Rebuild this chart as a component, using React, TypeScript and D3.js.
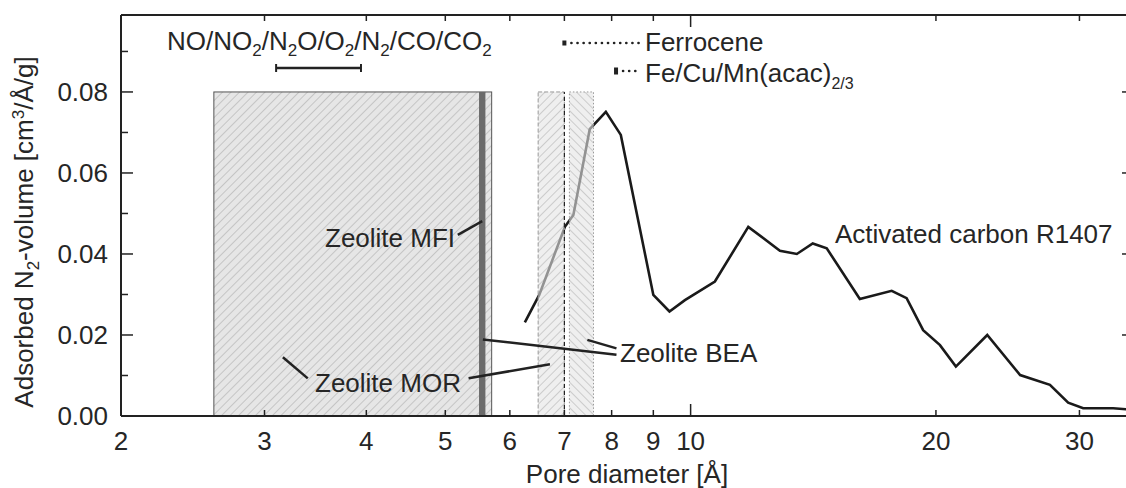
import React, { useEffect, useRef } from 'react';
import * as d3 from 'd3';

// pore size distribution of activated carbon R1407
const poreSize = [6.26, 6.52, 7.01, 7.18, 7.52, 7.87, 8.21, 9.0, 9.42, 9.84, 10.71, 11.77, 12.87, 13.5, 14.12, 14.69,
  16.13, 17.65, 18.41, 19.29, 20.23, 21.16, 23.12, 25.37, 27.6, 29.06, 30.32, 33.0, 35.0];
const volume = [0.0231, 0.0299, 0.0467, 0.0496, 0.0708, 0.0751, 0.0694, 0.0299, 0.0258, 0.0286, 0.0332, 0.0467, 0.0408, 0.04, 0.0426, 0.0414,
  0.0289, 0.0309, 0.0291, 0.0212, 0.0175, 0.0122, 0.02, 0.0101, 0.0077, 0.0033, 0.0019, 0.0019, 0.0015];

const xTicks = [2, 3, 4, 5, 6, 7, 8, 9, 10, 20, 30];
const yTicks = [0, 0.02, 0.04, 0.06, 0.08];
const yMinor = [0.01, 0.03, 0.05, 0.07, 0.09];

// channel sizes of the zeolites [Å]
const morSmall = [2.6, 5.7];
const mfiBar = [5.5, 5.6];
const morLarge = [6.5, 7.0];
const beaBox = [7.1, 7.6];
const boxTop = 0.08;
const gasRange = [3.1, 3.94];
const ferrocene = 7.0;
const acac = 8.1;

const W = 1126;
const H = 488;
const FONT = '"Liberation Sans", Arial, sans-serif';

function drawChart(el: SVGSVGElement) {
  const svg = d3.select(el);
  svg.selectAll('*').remove();

  const left = 121, right = 1134, top = 15, bottom = 416;
  const x = d3.scaleLog().domain([2, 35]).range([left, right]);
  const y = d3.scaleLinear().domain([0, 0.099]).range([bottom, top]);
  const ink = '#222';

  const defs = svg.append('defs');
  const hatch = (id: string, angle: number, stroke: string) => {
    const p = defs.append('pattern')
      .attr('id', id)
      .attr('patternUnits', 'userSpaceOnUse')
      .attr('width', 6).attr('height', 6)
      .attr('patternTransform', `rotate(${angle})`);
    p.append('line').attr('x1', 0).attr('y1', 0).attr('x2', 0).attr('y2', 6)
      .attr('stroke', stroke).attr('stroke-width', 1);
  };
  hatch('hatchA', 45, '#a4a4a4');
  hatch('hatchB', 45, 'rgba(140,140,140,0.7)');
  hatch('hatchC', -45, 'rgba(140,140,140,0.7)');

  const g = svg.append('g');

  // big MOR box (8-ring)
  g.append('rect')
    .attr('x', x(morSmall[0])).attr('y', y(boxTop))
    .attr('width', x(morSmall[1]) - x(morSmall[0])).attr('height', y(0) - y(boxTop))
    .attr('fill', '#e6e6e6');
  g.append('rect')
    .attr('x', x(morSmall[0])).attr('y', y(boxTop))
    .attr('width', x(morSmall[1]) - x(morSmall[0])).attr('height', y(0) - y(boxTop))
    .attr('fill', 'url(#hatchA)').attr('stroke', '#555').attr('stroke-width', 1);

  // MFI bar
  g.append('rect')
    .attr('x', x(mfiBar[0])).attr('y', y(boxTop))
    .attr('width', x(mfiBar[1]) - x(mfiBar[0])).attr('height', y(0) - y(boxTop))
    .attr('fill', '#6b6b6b');

  // activated carbon curve
  const line = d3.line<number>()
    .x((_, i) => x(poreSize[i]))
    .y(d => y(d));
  g.append('path')
    .datum(volume)
    .attr('d', line)
    .attr('fill', 'none')
    .attr('stroke', '#1a1a1a')
    .attr('stroke-width', 2.6)
    .attr('stroke-linejoin', 'miter');

  // MOR 12-ring box and BEA box, drawn over the curve
  const overBox = (r: number[], pat: string, dash: string) => {
    g.append('rect')
      .attr('x', x(r[0])).attr('y', y(boxTop))
      .attr('width', x(r[1]) - x(r[0])).attr('height', y(0) - y(boxTop))
      .attr('fill', 'rgba(228,228,228,0.6)');
    g.append('rect')
      .attr('x', x(r[0])).attr('y', y(boxTop))
      .attr('width', x(r[1]) - x(r[0])).attr('height', y(0) - y(boxTop))
      .attr('fill', `url(#${pat})`)
      .attr('stroke', '#999').attr('stroke-width', 1).attr('stroke-dasharray', dash);
  };
  overBox(morLarge, 'hatchB', '4,2');
  overBox(beaBox, 'hatchC', '1.5,2');

  // ferrocene size marker
  g.append('line')
    .attr('x1', x(ferrocene)).attr('x2', x(ferrocene))
    .attr('y1', y(0)).attr('y2', y(boxTop))
    .attr('stroke', ink).attr('stroke-width', 1.2).attr('stroke-dasharray', '4,3');

  // gas molecule range bar
  const gy = 68;
  g.append('line').attr('x1', x(gasRange[0])).attr('x2', x(gasRange[1])).attr('y1', gy).attr('y2', gy)
    .attr('stroke', ink).attr('stroke-width', 2.5);
  gasRange.forEach(v => {
    g.append('line').attr('x1', x(v)).attr('x2', x(v)).attr('y1', gy - 4).attr('y2', gy + 4)
      .attr('stroke', ink).attr('stroke-width', 2);
  });

  // legend lines for the complexes
  const legendLine = (v: number, ly: number, h: number) => {
    g.append('rect').attr('x', x(v) - 2).attr('y', ly - h / 2).attr('width', 4).attr('height', h).attr('fill', ink);
    g.append('line').attr('x1', x(v) + 7).attr('x2', 641).attr('y1', ly).attr('y2', ly)
      .attr('stroke', ink).attr('stroke-width', 2.6).attr('stroke-linecap', 'round')
      .attr('stroke-dasharray', '0.1,6');
  };
  legendLine(ferrocene, 43, 5);
  legendLine(acac, 71, 7);

  // leader lines for the labels
  const leaders = [
    [5.18, 0.0447, 5.55, 0.0481],
    [3.16, 0.0145, 3.39, 0.0093],
    [5.34, 0.0093, 6.72, 0.0128],
    [5.56, 0.0189, 8.11, 0.0151],
    [7.47, 0.0188, 8.11, 0.0167],
  ];
  leaders.forEach(l => {
    g.append('line')
      .attr('x1', x(l[0])).attr('y1', y(l[1]))
      .attr('x2', x(l[2])).attr('y2', y(l[3]))
      .attr('stroke', ink).attr('stroke-width', 2.5);
  });

  // axes frame
  const frame = svg.append('g').attr('stroke', ink).attr('stroke-width', 2).attr('fill', 'none');
  frame.append('line').attr('x1', left).attr('x2', right).attr('y1', bottom).attr('y2', bottom);
  frame.append('line').attr('x1', left).attr('x2', right).attr('y1', top).attr('y2', top);
  frame.append('line').attr('x1', left).attr('x2', left).attr('y1', top).attr('y2', bottom);
  frame.append('line').attr('x1', right).attr('x2', right).attr('y1', top).attr('y2', bottom);

  const tickG = svg.append('g').attr('stroke', ink).attr('stroke-width', 1.5);
  xTicks.forEach(v => {
    const len = v === 10 ? 12 : 6;
    tickG.append('line').attr('x1', x(v)).attr('x2', x(v)).attr('y1', bottom).attr('y2', bottom - len);
    tickG.append('line').attr('x1', x(v)).attr('x2', x(v)).attr('y1', top).attr('y2', top + len);
  });
  yTicks.forEach(v => {
    tickG.append('line').attr('x1', left).attr('x2', left + 12).attr('y1', y(v)).attr('y2', y(v));
    tickG.append('line').attr('x1', right).attr('x2', right - 12).attr('y1', y(v)).attr('y2', y(v));
  });
  yMinor.forEach(v => {
    tickG.append('line').attr('x1', left).attr('x2', left + 7).attr('y1', y(v)).attr('y2', y(v));
    tickG.append('line').attr('x1', right).attr('x2', right - 7).attr('y1', y(v)).attr('y2', y(v));
  });

  const txt = svg.append('g').attr('font-family', FONT).attr('fill', '#262626').attr('font-size', 26);

  xTicks.forEach(v => {
    txt.append('text').attr('x', x(v)).attr('y', 450).attr('text-anchor', 'middle').text(String(v));
  });
  const fmt = d3.format('.2f');
  yTicks.forEach(v => {
    txt.append('text').attr('x', 108).attr('y', y(v) + 9).attr('text-anchor', 'end').text(fmt(v));
  });

  txt.append('text').attr('x', 627).attr('y', 483).attr('text-anchor', 'middle').text('Pore diameter [Å]');

  const yt = txt.append('text')
    .attr('transform', 'translate(33,232) rotate(-90)')
    .attr('text-anchor', 'middle');
  yt.append('tspan').text('Adsorbed N');
  yt.append('tspan').attr('font-size', 17).attr('dy', 6).text('2');
  yt.append('tspan').attr('dy', -6).text('-volume [cm');
  yt.append('tspan').attr('font-size', 17).attr('dy', -9).text('3');
  yt.append('tspan').attr('dy', 9).text('/Å/g]');

  // gas list with subscripts
  const gas = txt.append('text').attr('x', 167).attr('y', 50);
  const parts: [string, boolean][] = [
    ['NO/NO', false], ['2', true], ['/N', false], ['2', true], ['O/O', false], ['2', true],
    ['/N', false], ['2', true], ['/CO/CO', false], ['2', true],
  ];
  parts.forEach(([s, sub], i) => {
    if (sub) gas.append('tspan').attr('font-size', 17).attr('dy', 6).text(s);
    else gas.append('tspan').attr('font-size', 26).attr('dy', i === 0 ? 0 : -6).text(s);
  });

  txt.append('text').attr('x', 645).attr('y', 51).text('Ferrocene');
  const fe = txt.append('text').attr('x', 645).attr('y', 82);
  fe.append('tspan').text('Fe/Cu/Mn(acac)');
  fe.append('tspan').attr('font-size', 16).attr('dy', 7).text('2/3');

  txt.append('text').attr('x', 325).attr('y', 247).text('Zeolite MFI');
  txt.append('text').attr('x', 315).attr('y', 392).text('Zeolite MOR');
  txt.append('text').attr('x', 620).attr('y', 362).text('Zeolite BEA');
  txt.append('text').attr('x', 835).attr('y', 243).text('Activated carbon R1407');
}

const App = () => {
  const ref = useRef<SVGSVGElement>(null);
  useEffect(() => {
    if (ref.current) drawChart(ref.current);
  }, []);
  return (
    <svg
      ref={ref}
      width={W}
      height={H}
      style={{ position: 'absolute', left: 0, top: 0, background: '#fff', overflow: 'hidden' }}
    />
  );
};

export default App;
